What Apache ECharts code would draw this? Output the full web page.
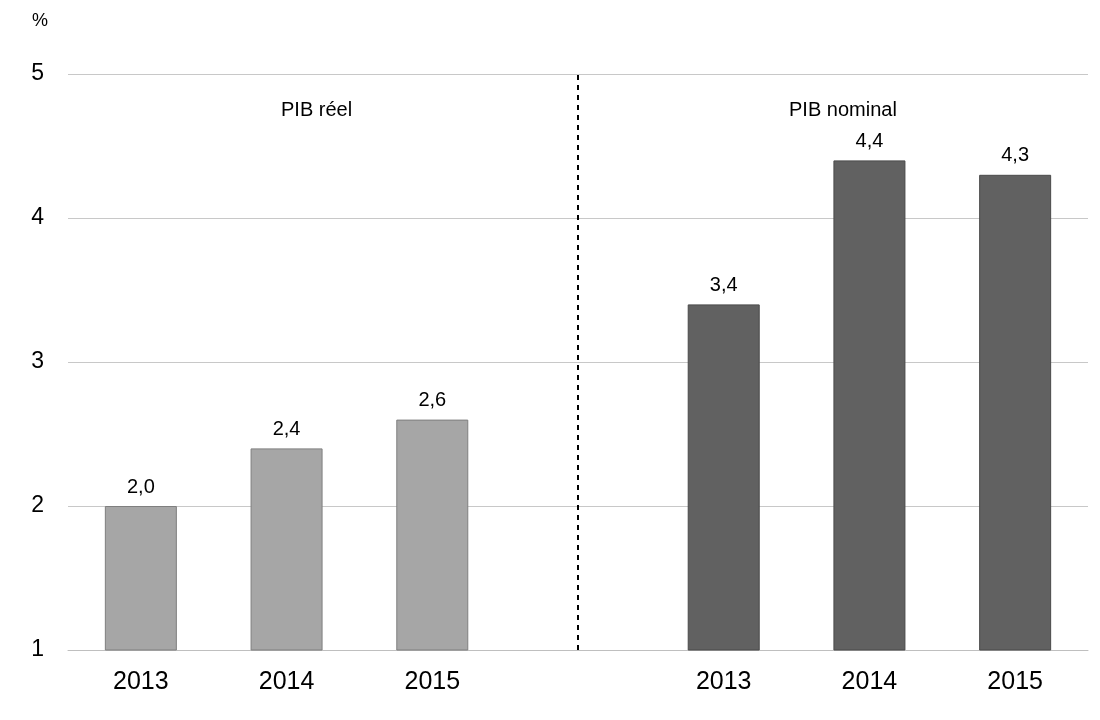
<!DOCTYPE html>
<html>
<head>
<meta charset="utf-8">
<script src="https://cdn.jsdelivr.net/npm/echarts@6/dist/echarts.min.js"></script>
<style>
  html, body { margin: 0; padding: 0; background: #fff; }
  #chart { width: 1100px; height: 720px; }
</style>
</head>
<body>
<div id="chart"></div>
<script>
// categories: middle empty slot holds the dashed divider
var years = ['2013', '2014', '2015', '', '2013', '2014', '2015'];
var pibReel = [2.0, 2.4, 2.6, '-', '-', '-', '-'];
var pibNominal = ['-', '-', '-', '-', 3.4, 4.4, 4.3];
var yTicks = { min: 1, max: 5, interval: 1 };

var font = 'Liberation Sans, Arial, sans-serif';

function fmt(p) {
  return p.value.toFixed(1).replace('.', ',');
}

var chart = echarts.init(document.getElementById('chart'));
var option = {
  animation: false,
  textStyle: { fontFamily: font },
  grid: { left: 68, right: 12, top: 74, bottom: 70 },
  xAxis: {
    type: 'category',
    data: years,
    axisLine: { show: true, lineStyle: { color: '#bfbfbf', width: 1 } },
    axisTick: { show: false },
    axisLabel: { color: '#000', fontSize: 25, margin: 20, fontFamily: font }
  },
  yAxis: {
    type: 'value',
    min: yTicks.min,
    max: yTicks.max,
    interval: yTicks.interval,
    axisLine: { show: false },
    axisTick: { show: false },
    splitLine: { lineStyle: { color: '#c8c8c8', width: 1 } },
    axisLabel: { color: '#000', fontSize: 23, margin: 24, fontFamily: font }
  },
  graphic: [
    { type: 'text', left: 32, top: 12, style: { text: '%', fontSize: 18, fill: '#000', fontFamily: font } },
    { type: 'text', left: 281, top: 100, style: { text: 'PIB réel', fontSize: 20, fill: '#000', fontFamily: font } },
    { type: 'text', left: 789, top: 100, style: { text: 'PIB nominal', fontSize: 20, fill: '#000', fontFamily: font } }
  ],
  series: [
    {
      name: 'PIB réel',
      type: 'bar',
      data: pibReel,
      barWidth: 72,
      barGap: '-100%',
      itemStyle: { color: '#a6a6a6', borderColor: '#7f7f7f', borderWidth: 1 },
      label: { show: true, position: 'top', distance: 9, fontSize: 20, color: '#000', formatter: fmt },
      markLine: {
        silent: true,
        symbol: 'none',
        label: { show: false },
        lineStyle: { color: '#000', type: [5, 5], width: 2 },
        data: [{ xAxis: 3 }]
      }
    },
    {
      name: 'PIB nominal',
      type: 'bar',
      data: pibNominal,
      barWidth: 72,
      itemStyle: { color: '#616161', borderColor: '#4a4a4a', borderWidth: 1 },
      label: { show: true, position: 'top', distance: 9, fontSize: 20, color: '#000', formatter: fmt }
    }
  ]
};
chart.setOption(option);
</script>
</body>
</html>
